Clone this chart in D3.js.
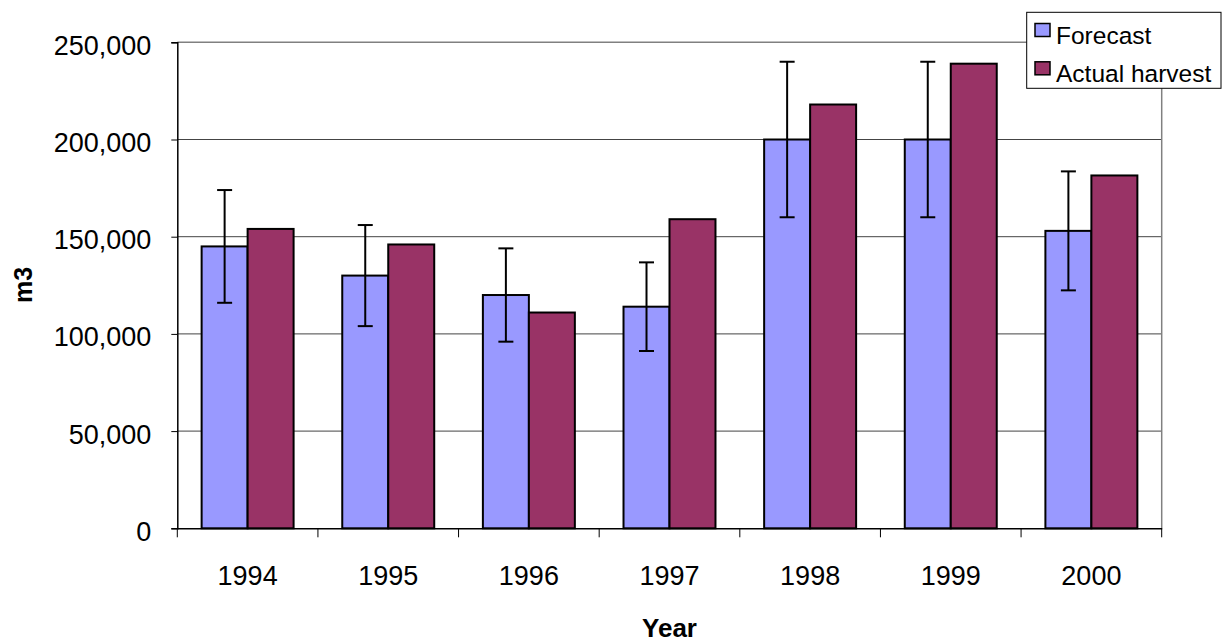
<!DOCTYPE html>
<html>
<head>
<meta charset="utf-8">
<script src="https://cdn.jsdelivr.net/npm/d3@7"></script>
<style>
    body { margin: 0; background: #fff; }
    svg { display: block; font-family: "Liberation Sans", Arial, sans-serif; }
</style>
</head>
<body>
<script>
// chart data
const years = ["1994", "1995", "1996", "1997", "1998", "1999", "2000"];
const forecast = [145000, 130000, 120000, 114000, 200000, 200000, 153000];
const actual = [154000, 146000, 111000, 159000, 218000, 239000, 181500];
const forecastError = [29000, 26000, 24000, 22800, 40000, 40000, 30600];
const yTicks = [0, 50000, 100000, 150000, 200000, 250000];
const seriesNames = ["Forecast", "Actual harvest"];
const seriesColors = ["#9999ff", "#993366"];

const width = 1223, height = 642;
const margin = { top: 42.3, right: 61.3, bottom: 113.7, left: 177.3 };

const svg = d3.select("body").append("svg")
    .attr("width", width)
    .attr("height", height);

const x = d3.scaleBand()
    .domain(years)
    .range([margin.left, width - margin.right])
    .paddingInner(0)
    .paddingOuter(0);

const y = d3.scaleLinear()
    .domain([0, 250000])
    .range([height - margin.bottom, margin.top]);

const groupPad = 0.173;
const inner = d3.scaleBand()
    .domain([0, 1])
    .range([x.bandwidth() * groupPad, x.bandwidth() * (1 - groupPad)]);

// gridlines
svg.append("g")
    .selectAll("line")
    .data(yTicks.slice(1))
    .enter()
    .append("line")
    .attr("x1", margin.left)
    .attr("x2", width - margin.right)
    .attr("y1", d => y(d))
    .attr("y2", d => y(d))
    .attr("stroke", d => d === 250000 ? "#808080" : "#444")
    .attr("stroke-width", d => d === 250000 ? 1.5 : 1);

// plot border (right side)
svg.append("line")
    .attr("x1", width - margin.right)
    .attr("x2", width - margin.right)
    .attr("y1", margin.top)
    .attr("y2", y(0))
    .attr("stroke", "#808080")
    .attr("stroke-width", 1.5);

// bars
const groups = svg.append("g")
    .selectAll("g")
    .data(years)
    .enter()
    .append("g")
    .attr("transform", d => `translate(${x(d)},0)`);

groups.append("rect")
    .attr("x", inner(0))
    .attr("width", inner.bandwidth())
    .attr("y", (d, i) => y(forecast[i]))
    .attr("height", (d, i) => y(0) - y(forecast[i]))
    .attr("fill", seriesColors[0])
    .attr("stroke", "#000")
    .attr("stroke-width", 2);

groups.append("rect")
    .attr("x", inner(1))
    .attr("width", inner.bandwidth())
    .attr("y", (d, i) => y(actual[i]))
    .attr("height", (d, i) => y(0) - y(actual[i]))
    .attr("fill", seriesColors[1])
    .attr("stroke", "#000")
    .attr("stroke-width", 2);

// error bars on forecast
const cx = inner(0) + inner.bandwidth() / 2;
const capW = 7.5;
groups.append("line")
    .attr("x1", cx).attr("x2", cx)
    .attr("y1", (d, i) => y(forecast[i] + forecastError[i]))
    .attr("y2", (d, i) => y(forecast[i] - forecastError[i]))
    .attr("stroke", "#000")
    .attr("stroke-width", 2);
groups.append("line")
    .attr("x1", cx - capW).attr("x2", cx + capW)
    .attr("y1", (d, i) => y(forecast[i] + forecastError[i]))
    .attr("y2", (d, i) => y(forecast[i] + forecastError[i]))
    .attr("stroke", "#000")
    .attr("stroke-width", 2);
groups.append("line")
    .attr("x1", cx - capW).attr("x2", cx + capW)
    .attr("y1", (d, i) => y(forecast[i] - forecastError[i]))
    .attr("y2", (d, i) => y(forecast[i] - forecastError[i]))
    .attr("stroke", "#000")
    .attr("stroke-width", 2);

// y axis
const yAxis = svg.append("g")
    .attr("transform", `translate(${margin.left},0)`)
    .call(d3.axisLeft(y)
        .tickValues(yTicks)
        .tickSize(6)
        .tickPadding(20)
        .tickFormat(d3.format(",")));
yAxis.select(".domain").attr("stroke", "#000").attr("stroke-width", 1.5);
yAxis.selectAll(".tick line").attr("stroke", "#000").attr("stroke-width", 1);
yAxis.selectAll(".tick text")
    .attr("font-family", "Liberation Sans, Arial, sans-serif")
    .attr("font-size", 27)
    .attr("fill", "#000")
    .attr("dy", 12);

// x axis
const xAxis = svg.append("g")
    .attr("transform", `translate(0,${y(0)})`)
    .call(d3.axisBottom(x).tickSize(0).tickPadding(0));
xAxis.select(".domain").attr("stroke", "#000").attr("stroke-width", 1.5);
xAxis.selectAll(".tick text")
    .attr("font-family", "Liberation Sans, Arial, sans-serif")
    .attr("font-size", 27)
    .attr("fill", "#000")
    .attr("y", 57)
    .attr("dy", 0);

// category separators
svg.append("g")
    .selectAll("line")
    .data(years.concat([null]))
    .enter()
    .append("line")
    .attr("x1", d => d === null ? width - margin.right : x(d))
    .attr("x2", d => d === null ? width - margin.right : x(d))
    .attr("y1", y(0))
    .attr("y2", y(0) + 9)
    .attr("stroke", "#000")
    .attr("stroke-width", 1);

// axis titles
svg.append("text")
    .attr("x", (margin.left + width - margin.right) / 2)
    .attr("y", 637)
    .attr("text-anchor", "middle")
    .attr("font-size", 26)
    .attr("font-weight", "bold")
    .text("Year");

svg.append("text")
    .attr("transform", `translate(31.5,285) rotate(-90)`)
    .attr("text-anchor", "middle")
    .attr("font-size", 25)
    .attr("font-weight", "bold")
    .text("m3");

// legend
const legend = svg.append("g");
legend.append("rect")
    .attr("x", 1026.7)
    .attr("y", 12.3)
    .attr("width", 194.3)
    .attr("height", 76)
    .attr("fill", "#fff")
    .attr("stroke", "#000")
    .attr("stroke-width", 1);

const items = legend.selectAll("g")
    .data(seriesNames)
    .enter()
    .append("g")
    .attr("transform", (d, i) => `translate(0,${i * 38.3})`);

items.append("rect")
    .attr("x", 1035)
    .attr("y", 23.5)
    .attr("width", 15)
    .attr("height", 13)
    .attr("fill", (d, i) => seriesColors[i])
    .attr("stroke", "#000")
    .attr("stroke-width", 1.5);

items.append("text")
    .attr("x", 1056)
    .attr("y", 43.5)
    .attr("font-size", 24.5)
    .attr("fill", "#000")
    .text(d => d);
</script>
</body>
</html>
